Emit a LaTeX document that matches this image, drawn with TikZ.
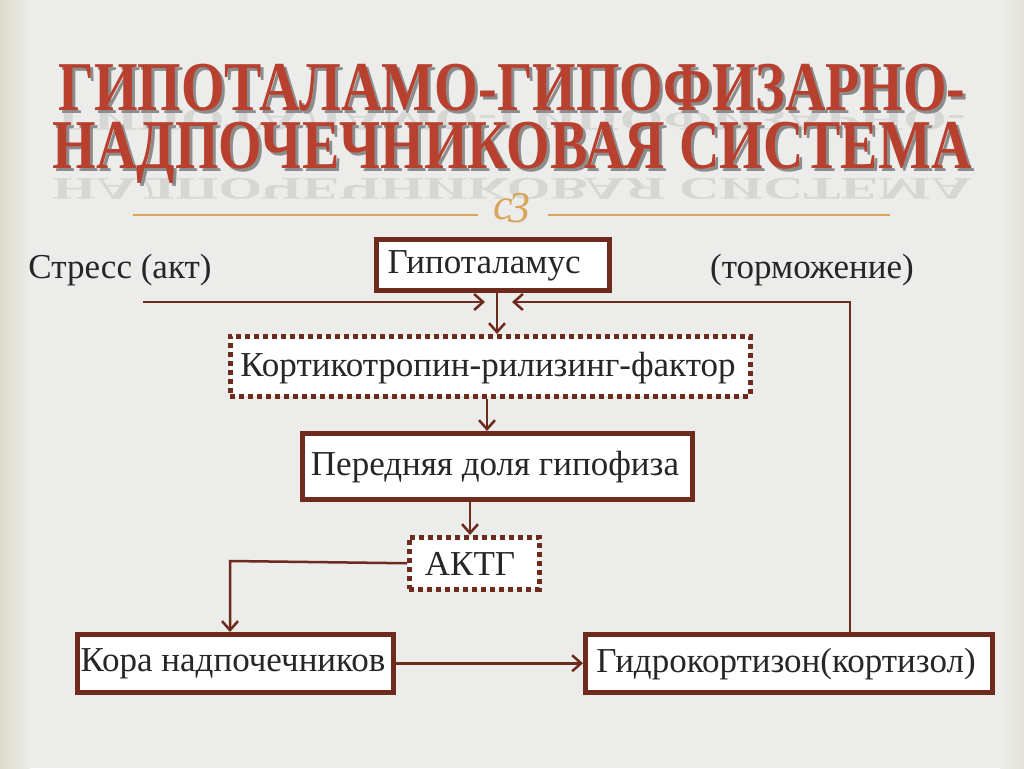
\documentclass[tikz,border=0pt]{standalone}
\usepackage{fontspec}
\setmainfont{Liberation Serif}
\usetikzlibrary{arrows.meta}
\definecolor{dred}{HTML}{6E2A1C}
\definecolor{tred}{HTML}{B8402E}
\definecolor{gold}{HTML}{D9A55A}
\definecolor{bg}{HTML}{ECECEA}
\definecolor{side}{HTML}{DDDCCB}
\begin{document}
\begin{tikzpicture}[x=1pt,y=-1pt,
  box/.style={draw=dred,line width=4.5pt,fill=white,inner sep=0pt,anchor=north west},
  dbox/.style={draw=dred,line width=4.5pt,fill=white,dash pattern=on 5pt off 4pt,inner sep=0pt,anchor=north west},
  lbl/.style={font=\fontsize{35}{40}\selectfont,text=black!85},
  con/.style={draw=dred,line width=2.5pt,-{Straight Barb[length=9pt,width=16pt,line width=2.5pt]}},
  ttl/.style={font=\fontsize{70}{70}\bfseries\selectfont,xscale=0.8,inner sep=0pt}]
\useasboundingbox (0,0) rectangle (1024,768);
\fill[bg] (0,0) rectangle (1024,768);
\shade[left color=side,right color=bg] (0,0) rectangle (30,768);
\shade[left color=bg,right color=side!60!bg] (1000,0) rectangle (1024,768);
% title reflections
\node[ttl,text=gray,opacity=0.2,yscale=-0.45] at (512,120) {ГИПОТАЛАМО-ГИПОФИЗАРНО-};
\node[ttl,text=gray,opacity=0.2,yscale=-0.45] at (512,186) {НАДПОЧЕЧНИКОВАЯ СИСТЕМА};
% title shadow and text
\node[ttl,text=black!45] (t1s) at (515,91) {ГИПОТАЛАМО-ГИПОФИЗАРНО-};
\node[ttl,text=black!45] (t2s) at (515,156) {НАДПОЧЕЧНИКОВАЯ СИСТЕМА};
\node[ttl,text=tred] (t1) at (512,88) {ГИПОТАЛАМО-ГИПОФИЗАРНО-};
\node[ttl,text=tred] (t2) at (512,153) {НАДПОЧЕЧНИКОВАЯ СИСТЕМА};
% ornament
\draw[gold,line width=1.5pt] (133,215) -- (478,215) (548,215) -- (890,215);
\node[text=gold,font=\fontsize{44}{44}\itshape\selectfont] (orn) at (512,208) {c\kern-5pt\raisebox{-3pt}{3}};
% boxes
\node[box,minimum width=233pt,minimum height=51pt] (hyp) at (374,237) {};
\node[lbl,anchor=west] at (384,266) {Гипоталамус};
\node[dbox,minimum width=520pt,minimum height=60pt] (crf) at (228,334) {};
\node[lbl] at (488,368) {Кортикотропин-рилизинг-фактор};
\node[box,minimum width=390pt,minimum height=66pt] (ant) at (300,431) {};
\node[lbl] at (495,467) {Передняя доля гипофиза};
\node[dbox,minimum width=130pt,minimum height=52pt] (acth) at (407,535) {};
\node[lbl] at (470,564) {АКТГ};
\node[box,minimum width=316pt,minimum height=58pt] (cor) at (75,632) {};
\node[lbl] at (233,664) {Кора надпочечников};
\node[box,minimum width=407pt,minimum height=58pt] (hc) at (583,632) {};
\node[lbl] at (786,664) {Гидрокортизон(кортизол)};
\node[lbl] (str) at (120,270) {Стресс (акт)};
\node[lbl] (inh) at (812,270) {(торможение)};
% connectors
\coordinate (s0) at (143,302);
\coordinate (s1) at (485,302);
\coordinate (f1) at (512,302);
\draw[con] (s0) -- (s1);
\draw[con] (hc.north -| 850,0) -- (850,302) -- (f1);
\draw[con] (hyp.south -| 497,0) -- (crf.north -| 497,0);
\draw[con] (crf.south -| 487,0) -- (ant.north -| 487,0);
\draw[con] (ant.south -| 470,0) -- (acth.north -| 470,0);
\draw[con] (acth.west) -- (230,561) -- (cor.north -| 230,0);
\draw[con] (cor.east) -- (hc.west);
\end{tikzpicture}
\end{document}
